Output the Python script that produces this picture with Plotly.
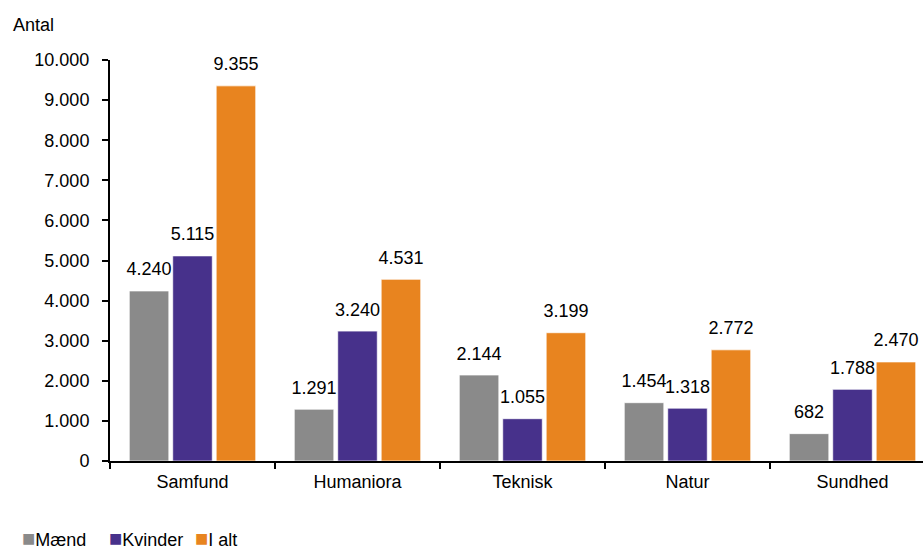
import plotly.graph_objects as go

categories = ["Samfund", "Humaniora", "Teknisk", "Natur", "Sundhed"]
maend = [4240, 1291, 2144, 1454, 682]
kvinder = [5115, 3240, 1055, 1318, 1788]
i_alt = [9355, 4531, 3199, 2772, 2470]
series_names = ["Mænd", "Kvinder", "I alt"]
series_values = [maend, kvinder, i_alt]
series_colors = ["#8A8A8A", "#47318B", "#E8841F"]
y_ticks = list(range(0, 10001, 1000))
y_ticklabels = [f"{v:,}".replace(",", ".") for v in y_ticks]

FONT = "Liberation Sans, Arial, sans-serif"

fig = go.Figure()
for name, vals, col in zip(series_names, series_values, series_colors):
    fig.add_trace(go.Bar(
        x=categories, y=vals, name=name, showlegend=False,
        marker=dict(color=col, line=dict(width=1, color="rgba(255,255,255,0.7)")),
    ))
for name, vals, col in zip(series_names, series_values, series_colors):
    fig.add_trace(go.Scatter(
        x=categories, y=vals, mode="markers+text", showlegend=False, hoverinfo="skip",
        text=[f"{v:,}".replace(",", ".") for v in vals], textposition="top center",
        textfont=dict(size=18, color="black", family=FONT), cliponaxis=False,
        marker=dict(size=16, color="rgba(0,0,0,0)"),
    ))

# legend drawn as text items
legend_px = [20, 107, 193]
annotations = [dict(text="Antal", xref="paper", yref="paper", x=-99/813, y=1.0 + (60 - 25) / 400,
                    xanchor="left", yanchor="middle", showarrow=False, font=dict(size=18))]
for name, col, px in zip(series_names, series_colors, legend_px):
    annotations.append(dict(
        text=f"<span style='color:{col};font-size:22px'>■</span>{name}",
        xref="paper", yref="paper", x=(px - 110) / 813, y=-(537 - 460) / 400,
        xanchor="left", yanchor="middle", showarrow=False, font=dict(size=18),
    ))

fig.update_layout(
    width=923, height=550,
    margin=dict(l=110, r=0, t=60, b=89, autoexpand=False),
    plot_bgcolor="white", paper_bgcolor="white",
    font=dict(family=FONT, size=18, color="black"),
    barmode="group", bargap=0.21, bargroupgap=0.09,
    scattermode="group", scattergap=0.21,
    showlegend=False,
    annotations=annotations,
)
fig.update_yaxes(range=[0, 10000], tickvals=y_ticks, ticktext=y_ticklabels,
                 showline=True, linecolor="black", linewidth=2, ticks="outside",
                 ticklen=6, tickwidth=2, tickcolor="black", showgrid=False, zeroline=False,
                 ticklabelstandoff=9)
fig.update_xaxes(range=[-0.5, -0.5 + 813 / 165], showline=True, linecolor="black", linewidth=2,
                 ticks="outside", tickson="boundaries", ticklen=6, tickwidth=2,
                 tickcolor="black", showgrid=False, ticklabelstandoff=3)

fig.write_html("out.html", config={"displayModeBar": False},
               post_script="document.body.style.margin='0';document.body.style.overflow='hidden';")
